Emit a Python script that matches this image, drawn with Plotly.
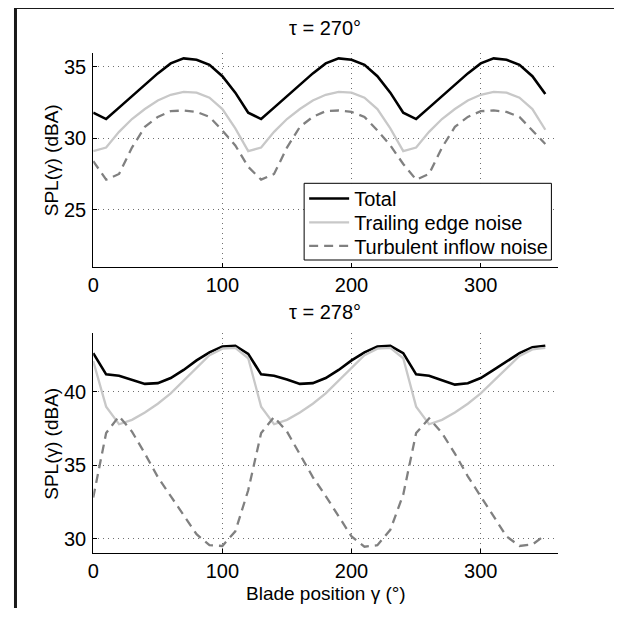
import plotly.graph_objects as go

gamma = [0, 10, 20, 30, 40, 50, 60, 70, 80, 90, 100, 110,
         120, 130, 140, 150, 160, 170, 180, 190, 200, 210, 220, 230,
         240, 250, 260, 270, 280, 290, 300, 310, 320, 330, 340, 350]

# tau = 270 deg
total_270 = [31.8, 31.35, 32.15, 32.95, 33.75, 34.55, 35.25, 35.6, 35.5, 35.15, 34.35, 33.2,
             31.8, 31.35, 32.15, 32.95, 33.75, 34.55, 35.25, 35.6, 35.5, 35.15, 34.35, 33.2,
             31.8, 31.35, 32.15, 32.95, 33.75, 34.55, 35.25, 35.6, 35.5, 35.15, 34.35, 33.1]
te_270 = [29.1, 29.35, 30.45, 31.35, 32.05, 32.65, 33.05, 33.25, 33.2, 32.85, 32.05, 30.7,
          29.1, 29.35, 30.45, 31.35, 32.05, 32.65, 33.05, 33.25, 33.2, 32.85, 32.05, 30.7,
          29.1, 29.35, 30.45, 31.35, 32.05, 32.65, 33.05, 33.25, 33.2, 32.85, 32.05, 30.6]
ti_270 = [28.4, 27.1, 27.5, 29.35, 30.8, 31.5, 31.9, 31.95, 31.85, 31.5, 30.55, 29.5,
          28.0, 27.1, 27.5, 29.35, 30.8, 31.5, 31.9, 31.95, 31.85, 31.5, 30.55, 29.5,
          28.2, 27.1, 27.5, 29.35, 30.8, 31.5, 31.9, 31.95, 31.85, 31.5, 30.55, 29.6]

# tau = 278 deg
total_278 = [42.65, 41.2, 41.1, 40.85, 40.55, 40.6, 40.95, 41.5, 42.15, 42.7, 43.1, 43.15,
             42.6, 41.2, 41.1, 40.85, 40.55, 40.6, 40.95, 41.5, 42.15, 42.7, 43.1, 43.15,
             42.65, 41.2, 41.1, 40.8, 40.5, 40.6, 40.95, 41.5, 42.1, 42.65, 43.05, 43.15]
te_278 = [42.1, 39.0, 37.8, 38.1, 38.6, 39.2, 39.9, 40.75, 41.65, 42.5, 42.95, 43.0,
          42.3, 39.0, 37.8, 38.1, 38.6, 39.2, 39.9, 40.75, 41.65, 42.5, 42.95, 43.0,
          42.3, 39.0, 37.8, 38.1, 38.6, 39.2, 39.9, 40.75, 41.6, 42.45, 42.9, 43.0]
ti_278 = [32.8, 37.2, 38.35, 37.3, 35.8, 34.2, 32.9, 31.6, 30.3, 29.55, 29.5, 30.5,
          33.3, 37.2, 38.3, 37.3, 35.8, 34.2, 32.9, 31.5, 30.15, 29.45, 29.55, 30.6,
          33.0, 37.2, 38.2, 37.2, 35.8, 34.25, 32.9, 31.5, 30.15, 29.5, 29.6, 30.25]

names = ["Total", "Trailing edge noise", "Turbulent inflow noise"]
titles = ["\u03c4 = 270\u00b0", "\u03c4 = 278\u00b0"]
ylabel = "SPL(\u03b3) (dBA)"
xlabel = "Blade position \u03b3 (\u00b0)"
x_ticks = [0, 100, 200, 300]
y_ticks_top = [25, 30, 35]
y_ticks_bot = [30, 35, 40]

FONT = "Liberation Sans, Arial, sans-serif"
styles = [dict(color="black", width=2.6),
          dict(color="#c8c8c8", width=2.3),
          dict(color="#808080", width=2.3, dash="9px,6px")]

# page body has an 8px margin; figure sized so the page fits the window
OFF = 8
W, H = 614, 600
def px(v):
    return (v - OFF) / W
def py(v):
    return 1 - (v - OFF) / H

legend_ids = ["legend", "legend2", "legend3"]
legend_rows = [198.5, 222.3, 245.9]

fig = go.Figure()
top_series = [total_270, te_270, ti_270]
bot_series = [total_278, te_278, ti_278]
for name, ys, st, lg in zip(names, top_series, styles, legend_ids):
    fig.add_trace(go.Scatter(x=gamma, y=ys, mode="lines", name=name, line=st,
                             xaxis="x", yaxis="y", showlegend=True, legend=lg))
for name, ys, st in zip(names, bot_series, styles):
    fig.add_trace(go.Scatter(x=gamma, y=ys, mode="lines", name=name, line=st,
                             xaxis="x2", yaxis="y2", showlegend=False))

axis_common = dict(showline=True, linecolor="black", linewidth=1, mirror=False,
                   ticks="inside", ticklen=4, tickcolor="black",
                   showgrid=True, gridcolor="#707070", griddash="1px,4px", gridwidth=1,
                   zeroline=False, tickfont=dict(family=FONT, size=20, color="black"))

legend_layout = {}
for lg, row in zip(legend_ids, legend_rows):
    legend_layout[lg] = dict(x=px(301), y=py(row), xanchor="left", yanchor="middle",
                             bgcolor="rgba(0,0,0,0)", borderwidth=0,
                             font=dict(family=FONT, size=20, color="black"),
                             itemwidth=40)

fig.update_layout(
    width=W, height=H, margin=dict(l=0, r=0, t=0, b=0),
    paper_bgcolor="white", plot_bgcolor="white",
    font=dict(family=FONT, size=20, color="black"),
    xaxis=dict(domain=[px(88), px(557.6)], range=[0, 360], tickvals=x_ticks,
               anchor="y", **axis_common),
    yaxis=dict(domain=[py(266.7), py(52.7)], range=[21, 36], tickvals=y_ticks_top,
               anchor="x", ticklabelstandoff=2, **axis_common),
    xaxis2=dict(domain=[px(88), px(557.6)], range=[0, 360], tickvals=x_ticks,
                anchor="y2", **axis_common),
    yaxis2=dict(domain=[py(553.3), py(333.3)], range=[29, 44], tickvals=y_ticks_bot,
                anchor="x2", ticklabelstandoff=2, **axis_common),
    showlegend=True,
    **legend_layout,
)

annotations = [
    dict(text=titles[0], x=px(322), y=py(28), xref="paper", yref="paper",
         showarrow=False, xanchor="center", yanchor="middle", font=dict(size=20)),
    dict(text=titles[1], x=px(322), y=py(311.7), xref="paper", yref="paper",
         showarrow=False, xanchor="center", yanchor="middle", font=dict(size=20)),
    dict(text=ylabel, x=px(45.6), y=py(160), xref="paper", yref="paper", textangle=-90,
         showarrow=False, xanchor="center", yanchor="middle", font=dict(size=19)),
    dict(text=ylabel, x=px(45.6), y=py(443.5), xref="paper", yref="paper", textangle=-90,
         showarrow=False, xanchor="center", yanchor="middle", font=dict(size=19)),
    dict(text=xlabel, x=px(323), y=py(593), xref="paper", yref="paper",
         showarrow=False, xanchor="center", yanchor="middle", font=dict(size=19)),
]
fig.update_layout(annotations=annotations)

shapes = [
    # legend frame
    dict(type="rect", xref="paper", yref="paper", x0=px(301), x1=px(550.7),
         y0=py(260), y1=py(183.3), line=dict(color="black", width=1),
         fillcolor="white", layer="above"),
    # page frame
    dict(type="line", xref="paper", yref="paper", x0=px(9.5), x1=px(9.5),
         y0=py(6), y1=py(625), line=dict(color="#1a1a1a", width=3)),
    dict(type="line", xref="paper", yref="paper", x0=px(8), x1=px(622),
         y0=py(7.5), y1=py(7.5), line=dict(color="#1a1a1a", width=3)),
]
fig.update_layout(shapes=shapes)

fig.write_html("out.html")
